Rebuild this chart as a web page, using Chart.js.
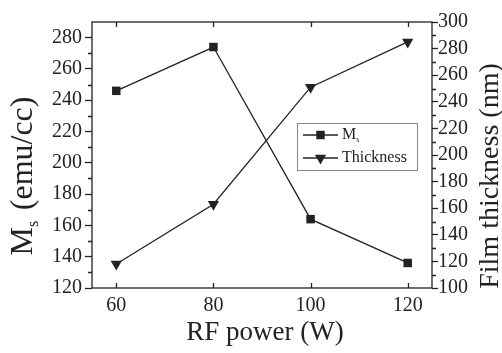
<!DOCTYPE html>
<html>
<head>
<meta charset="utf-8">
<script src="https://cdn.jsdelivr.net/npm/chart.js@4/dist/chart.umd.min.js"></script>
<style>
  html, body { margin: 0; padding: 0; background: #fff; }
  #wrap { width: 502px; height: 353px; }
</style>
</head>
<body>
<div id="wrap"><canvas id="chart" width="502" height="353"></canvas></div>
<script>
"use strict";

const rfPower = [60, 80, 100, 120];
const msValues = [246, 274, 164, 136];
const thickness = [118, 163, 251, 285];
const xTicks = [60, 80, 100, 120];
const msTicks = [120, 140, 160, 180, 200, 220, 240, 260, 280];
const thickTicks = [100, 120, 140, 160, 180, 200, 220, 240, 260, 280, 300];

const SERIF = "'Liberation Serif', 'Times New Roman', serif";
const INK = "#222";

function toPoints(ys) {
  return rfPower.map((x, i) => ({ x: x, y: ys[i] }));
}

// draws text pieces left to right, pieces with sub=true are small and lowered
function drawPieces(ctx, pieces, x, y, size) {
  let cx = x;
  pieces.forEach((p) => {
    let s = p.sub ? size * 0.5 : size;
    ctx.font = `${s}px ${SERIF}`;
    ctx.fillText(p.t, cx, p.sub ? y + size * 0.3 : y);
    cx += ctx.measureText(p.t).width + (p.sub ? size * 0.08 : 0);
  });
}
function piecesWidth(ctx, pieces, size) {
  let w = 0;
  pieces.forEach((p) => {
    ctx.font = `${p.sub ? size * 0.5 : size}px ${SERIF}`;
    w += ctx.measureText(p.t).width + (p.sub ? size * 0.08 : 0);
  });
  return w;
}

const msLabel = [{ t: "M" }, { t: "s", sub: true }];
const leftTitle = [{ t: "M" }, { t: "s", sub: true }, { t: " (emu/cc)" }];
const rightTitle = [{ t: "Film thickness (nm)" }];
const bottomTitle = "RF power (W)";

const decor = {
  id: "decor",
  afterDraw(chart) {
    const ctx = chart.ctx;
    const a = chart.chartArea;
    const sx = chart.scales.x, sy = chart.scales.y, sy1 = chart.scales.y1;
    ctx.save();
    ctx.strokeStyle = INK;
    ctx.lineWidth = 1.3;
    ctx.strokeRect(a.left, a.top, a.right - a.left, a.bottom - a.top);

    // x ticks pointing inward, top and bottom
    ctx.beginPath();
    xTicks.forEach((v) => {
      let px = Math.round(sx.getPixelForValue(v)) + 0.5;
      ctx.moveTo(px, a.bottom); ctx.lineTo(px, a.bottom - 5);
      ctx.moveTo(px, a.top); ctx.lineTo(px, a.top + 5);
    });
    // minor y ticks outward
    for (let v = 130; v < 290; v += 20) {
      let py = Math.round(sy.getPixelForValue(v)) + 0.5;
      ctx.moveTo(a.left, py); ctx.lineTo(a.left - 4, py);
    }
    for (let v = 110; v < 300; v += 20) {
      let py = Math.round(sy1.getPixelForValue(v)) + 0.5;
      ctx.moveTo(a.right, py); ctx.lineTo(a.right + 4, py);
    }
    ctx.stroke();

    // axis titles
    ctx.fillStyle = INK;
    ctx.textBaseline = "middle";
    ctx.textAlign = "center";
    ctx.font = `27px ${SERIF}`;
    ctx.fillText(bottomTitle, (a.left + a.right) / 2 + 3, 333);

    ctx.textAlign = "left";
    let w = piecesWidth(ctx, leftTitle, 32);
    ctx.save();
    ctx.translate(24, 176);
    ctx.rotate(-Math.PI / 2);
    drawPieces(ctx, leftTitle, -w / 2, 0, 32);
    ctx.restore();

    w = piecesWidth(ctx, rightTitle, 28);
    ctx.save();
    ctx.translate(491, 176);
    ctx.rotate(-Math.PI / 2);
    drawPieces(ctx, rightTitle, -w / 2, 0, 28);
    ctx.restore();

    // legend box
    const lx = 297, ly = 123, lw = 120, lh = 47;
    ctx.strokeStyle = "#888";
    ctx.lineWidth = 1;
    ctx.strokeRect(lx + 0.5, ly + 0.5, lw, lh);
    chart.data.datasets.forEach((ds, i) => {
      let rowY = ly + 12 + i * 23;
      ctx.strokeStyle = INK;
      ctx.lineWidth = 1.3;
      ctx.beginPath();
      ctx.moveTo(lx + 6, rowY); ctx.lineTo(lx + 41, rowY);
      ctx.stroke();
      ctx.fillStyle = INK;
      Chart.helpers.drawPoint(ctx, {
        pointStyle: ds.pointStyle,
        radius: ds.pointRadius,
        rotation: ds.pointRotation || 0,
        borderWidth: 0
      }, lx + 23.5, rowY);
      ctx.fillStyle = INK;
      ctx.textAlign = "left";
      drawPieces(ctx, i === 0 ? msLabel : [{ t: ds.label }], lx + 45, rowY, 16);
    });
    ctx.restore();
  }
};

new Chart(document.getElementById("chart"), {
  type: "line",
  data: {
    datasets: [
      {
        label: "Ms",
        data: toPoints(msValues),
        yAxisID: "y",
        borderColor: INK,
        backgroundColor: INK,
        borderWidth: 1.3,
        pointStyle: "rect",
        pointRadius: 6,
        pointBorderWidth: 0,
        tension: 0
      },
      {
        label: "Thickness",
        data: toPoints(thickness),
        yAxisID: "y1",
        borderColor: INK,
        backgroundColor: INK,
        borderWidth: 1.3,
        pointStyle: "triangle",
        pointRotation: 180,
        pointRadius: 6.5,
        pointBorderWidth: 0,
        tension: 0
      }
    ]
  },
  options: {
    responsive: false,
    animation: false,
    layout: { padding: { top: 22, left: 0, right: 0, bottom: 0 } },
    plugins: { legend: { display: false }, tooltip: { enabled: false } },
    scales: {
      x: {
        type: "linear",
        min: 55,
        max: 125,
        afterBuildTicks: (s) => { s.ticks = xTicks.map((v) => ({ value: v })); },
        afterFit: (s) => { s.height = 65; },
        grid: { display: false, drawTicks: false },
        border: { display: false },
        ticks: { color: INK, font: { family: SERIF, size: 20 }, padding: 6, maxRotation: 0, autoSkip: false }
      },
      y: {
        position: "left",
        min: 120,
        max: 290,
        afterBuildTicks: (s) => { s.ticks = msTicks.map((v) => ({ value: v })); },
        afterFit: (s) => { s.width = 92; },
        grid: { drawOnChartArea: false, tickLength: 7, color: INK, tickWidth: 1.3 },
        border: { display: false },
        ticks: { color: INK, font: { family: SERIF, size: 20 }, padding: 3, autoSkip: false }
      },
      y1: {
        position: "right",
        min: 100,
        max: 300,
        afterBuildTicks: (s) => { s.ticks = thickTicks.map((v) => ({ value: v })); },
        afterFit: (s) => { s.width = 70; },
        grid: { drawOnChartArea: false, tickLength: 6, color: INK, tickWidth: 1.3 },
        border: { display: false },
        ticks: { color: INK, font: { family: SERIF, size: 20 }, padding: 0, autoSkip: false }
      }
    }
  },
  plugins: [decor]
});
</script>
</body>
</html>
